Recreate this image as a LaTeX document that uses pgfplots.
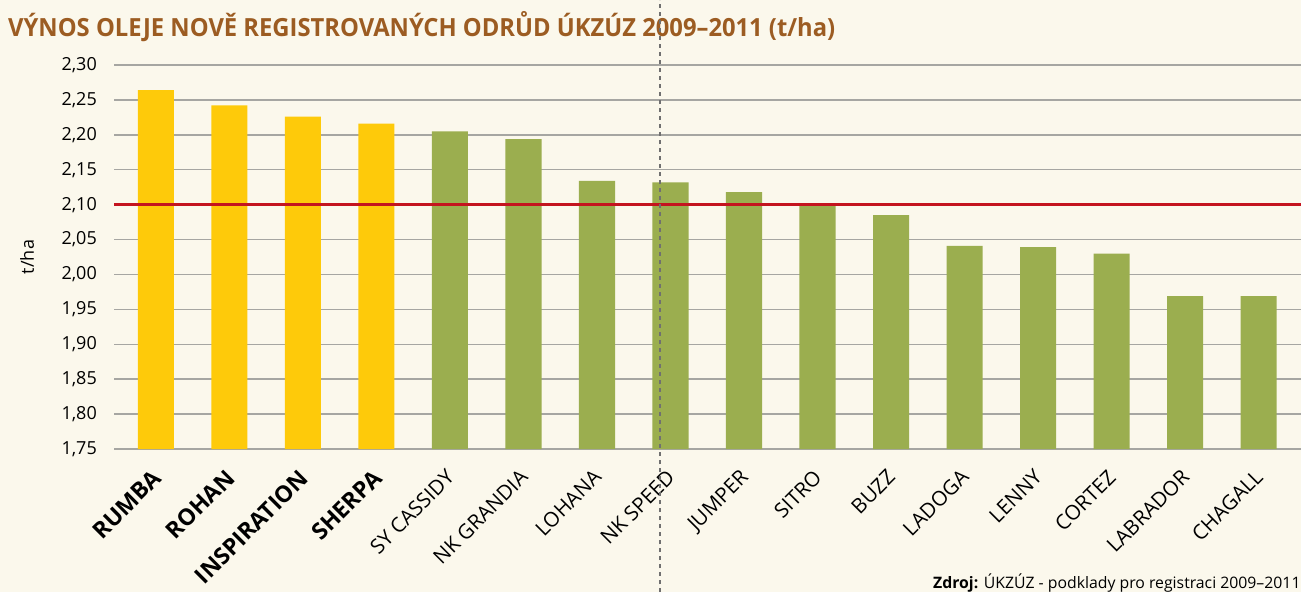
\documentclass[border=0pt]{standalone}
\usepackage{pgfplots}
\pgfplotsset{compat=1.18}
\usepackage{fontspec}
\setmainfont{Open Sans}
\usepackage{graphicx}
\definecolor{bgc}{HTML}{FBF8EC}
\definecolor{yel}{HTML}{FECA0A}
\definecolor{grn}{HTML}{9BAE4F}
\definecolor{redl}{HTML}{C4141F}
\definecolor{gridc}{HTML}{A6A6A2}
\definecolor{titlec}{HTML}{9C5C22}
\definecolor{dashc}{HTML}{707070}
\begin{document}
\begin{tikzpicture}[x=1pt,y=1pt]
\fill[bgc] (0,0) rectangle (1301,592);
\begin{axis}[
  at={(114pt,143pt)}, anchor=south west,
  scale only axis, width=1187pt, height=384pt,
  xmin=-0.571, xmax=15.578, ymin=1.75, ymax=2.30,
  axis line style={draw=none},
  major tick length=0pt,
  ymajorgrids, grid style={gridc, line width=1.5pt},
  ytick={1.75,1.80,1.85,1.90,1.95,2.00,2.05,2.10,2.15,2.20,2.25,2.30},
  yticklabel style={font=\fontsize{18}{18}\selectfont, inner sep=0pt,
    /pgf/number format/.cd, use comma, fixed, fixed zerofill, precision=2, assume math mode=true},
  yticklabel shift=17pt,
  xtick={0,...,15},
  xticklabels={{\fontsize{23}{23}\selectfont\bfseries RUMBA},{\fontsize{23}{23}\selectfont\bfseries ROHAN},{\fontsize{23}{23}\selectfont\bfseries INSPIRATION},{\fontsize{23}{23}\selectfont\bfseries SHERPA},SY CASSIDY,NK GRANDIA,LOHANA,NK SPEED,JUMPER,SITRO,BUZZ,LADOGA,LENNY,CORTEZ,LABRADOR,CHAGALL},
  xticklabel style={font=\fontsize{20.5}{20.5}\selectfont, inner sep=0pt, xshift=-5pt, rotate=45, anchor=north east},
  xticklabel shift=19pt,
  clip=true,
]
\addplot[ybar, bar width=0.49, bar shift=0pt, fill=yel, draw=none] coordinates {
(0,2.264) (1,2.242) (2,2.226) (3,2.216)};
\addplot[ybar, bar width=0.49, bar shift=0pt, fill=grn, draw=none] coordinates {
(4,2.205) (5,2.194) (6,2.134) (7,2.132) (8,2.118) (9,2.099) (10,2.085) (11,2.041) (12,2.039) (13,2.030) (14,1.969) (15,1.969)};
\addplot[redl, line width=3pt, sharp plot, forget plot] coordinates {(-0.571,2.10) (15.578,2.10)};
\end{axis}
\node[rotate=90, inner sep=0pt] at (27,335) {\fontsize{18}{18}\selectfont t/ha};
\node[anchor=base west, inner sep=0pt, text=titlec] at (8,555) {\resizebox{827pt}{\height}{\fontsize{25}{25}\selectfont\bfseries VÝNOS OLEJE NOVĚ REGISTROVANÝCH ODRŮD ÚKZÚZ 2009–2011 (t/ha)}};
\node[anchor=base west, inner sep=0pt] at (933,4) {\fontsize{15.8}{15.8}\selectfont\textbf{Zdroj:} ÚKZÚZ - podklady pro registraci 2009–2011};
\draw[dashc, line width=1.2pt, dash pattern=on 4pt off 4pt] (660,0) -- (660,592);
\pgfresetboundingbox
\useasboundingbox (0,0) rectangle (1301,592);
\end{tikzpicture}
\end{document}
